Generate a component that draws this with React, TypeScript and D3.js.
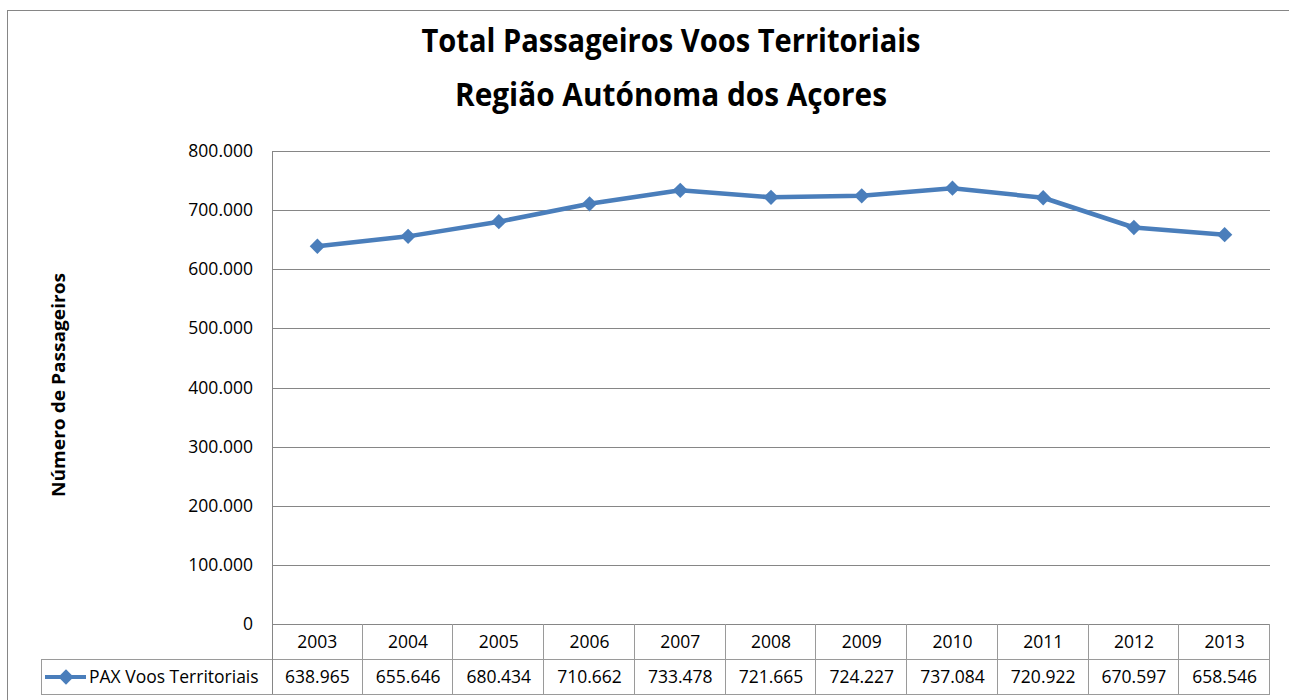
import React from 'react';
import * as d3 from 'd3';

const years = ['2003', '2004', '2005', '2006', '2007', '2008', '2009', '2010', '2011', '2012', '2013'];
const paxValues = [638965, 655646, 680434, 710662, 733478, 721665, 724227, 737084, 720922, 670597, 658546];
const yTicks = [0, 100000, 200000, 300000, 400000, 500000, 600000, 700000, 800000];
const seriesName = 'PAX Voos Territoriais';
const titleLines = ['Total Passageiros Voos Territoriais', 'Região Autónoma dos Açores'];
const yTitle = 'Número de Passageiros';

const W = 1289;
const H = 700;
const plot = { left: 272, right: 1270, top: 151, bottom: 624 };
const rowH = 35;
const legendLeft = 41;
const blue = '#4a7ebb';
const grid = '#868686';
const tableLine = '#9a9a9a';
const font = "'Open Sans', sans-serif";

// numbers like 638.965 (pt-PT grouping)
const fmt = (v: number) => (v === 0 ? '0' : d3.format(',')(v).replace(/,/g, '.'));

const App = () => {
  const x = d3.scaleBand<string>().domain(years).range([plot.left, plot.right]).padding(0);
  const y = d3.scaleLinear().domain([0, 800000]).range([plot.bottom, plot.top]);
  const cx = (yr: string) => (x(yr) as number) + x.bandwidth() / 2;

  const line = d3.line<number>()
    .x((_, i) => cx(years[i]))
    .y(d => y(d));

  const diamond = d3.symbol().type(d3.symbolDiamond2).size(150)() as string;

  const tableTop = plot.bottom;
  const row2 = tableTop + rowH;
  const tableBottom = row2 + rowH;

  // title widths (Calibri is narrower than Open Sans)
  const titleWidths = [499, 432];

  return (
    <svg width={W} height={H} style={{ position: 'absolute', left: 0, top: 0, background: '#fff' }}>
      <rect x={0} y={0} width={W} height={H} fill="#fff" />
      {/* chart border */}
      <rect x={7.5} y={10.5} width={W + 10} height={H + 10} fill="none" stroke={grid} strokeWidth={1} />

      {/* title */}
      {titleLines.map((t, i) => (
        <text key={t} x={671} y={52 + i * 54} textAnchor="middle" fontFamily={font}
          fontWeight="bold" fontSize={33} fill="#000"
          textLength={titleWidths[i]} lengthAdjust="spacingAndGlyphs">{t}</text>
      ))}

      {/* gridlines */}
      {yTicks.filter(t => t > 0).map(t => (
        <line key={t} x1={plot.left} x2={plot.right} y1={Math.round(y(t)) + 0.5} y2={Math.round(y(t)) + 0.5}
          stroke={grid} strokeWidth={1} />
      ))}

      {/* y tick labels */}
      {yTicks.map(t => (
        <text key={t} x={253} y={y(t) + 6} textAnchor="end" fontFamily={font} fontSize={17.5} fill="#000">
          {fmt(t)}
        </text>
      ))}

      {/* y axis title */}
      <text transform={`translate(65,385) rotate(-90)`} textAnchor="middle" fontFamily={font}
        fontWeight="bold" fontSize={17} fill="#000" textLength={224} lengthAdjust="spacingAndGlyphs">{yTitle}</text>

      {/* data table */}
      <g stroke={tableLine} strokeWidth={1} fill="none">
        <line x1={plot.left} x2={plot.right} y1={tableTop + 0.5} y2={tableTop + 0.5} stroke={grid} />
        <line x1={legendLeft} x2={plot.right} y1={row2 + 0.5} y2={row2 + 0.5} />
        <line x1={legendLeft} x2={plot.right} y1={tableBottom + 0.5} y2={tableBottom + 0.5} />
        <line x1={legendLeft + 0.5} x2={legendLeft + 0.5} y1={row2} y2={tableBottom} />
        <line x1={plot.left + 0.5} x2={plot.left + 0.5} y1={plot.top} y2={tableBottom} stroke={grid} />
        {years.map(yr => {
          const xr = Math.round((x(yr) as number) + x.bandwidth()) - 0.5;
          return <line key={yr} x1={xr} x2={xr} y1={tableTop} y2={tableBottom} />;
        })}
      </g>
      {years.map((yr, i) => (
        <g key={yr} fontFamily={font} fontSize={17.5} fill="#000" textAnchor="middle">
          <text x={cx(yr)} y={tableTop + 24}>{yr}</text>
          <text x={cx(yr)} y={row2 + 24}>{fmt(paxValues[i])}</text>
        </g>
      ))}

      {/* legend key */}
      <line x1={45} x2={86} y1={row2 + 18} y2={row2 + 18} stroke={blue} strokeWidth={4} />
      <path d={diamond} transform={`translate(66,${row2 + 18})`} fill={blue} />
      <text x={89} y={row2 + 24} fontFamily={font} fontSize={17.5} fill="#000">{seriesName}</text>

      {/* series */}
      <path d={line(paxValues) as string} fill="none" stroke={blue} strokeWidth={4.5} strokeLinejoin="round" />
      {paxValues.map((v, i) => (
        <path key={years[i]} d={diamond} transform={`translate(${cx(years[i])},${y(v)})`} fill={blue} />
      ))}
    </svg>
  );
};

export default App;
